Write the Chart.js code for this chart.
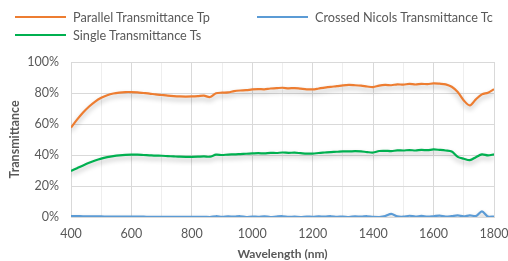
<!DOCTYPE html>
<html>
<head>
<meta charset="utf-8">
<script src="https://cdn.jsdelivr.net/npm/chart.js@4/dist/chart.umd.min.js"></script>
<style>
  body { margin: 0; background: #fff; font-family: Lato, sans-serif; }
  #wrap { position: relative; width: 508px; height: 261px; }
  #legend { position: absolute; left: 0; top: 0; width: 508px; height: 50px; }
  .item { position: absolute; height: 16px; font-size: 12.7px; color: #595959; white-space: nowrap; }
  .item span.sw { position: absolute; left: 0; top: 7px; width: 51px; height: 2px; }
  .item span.tx { position: absolute; left: 58px; top: 0; line-height: 16px; }
</style>
</head>
<body>
<div id="wrap">
  <canvas id="chart" width="508" height="261"></canvas>
  <div id="legend"></div>
</div>
<script>
// ============================= data

const wavelengths = [400, 420, 440, 460, 480, 500, 520, 540, 560, 580, 600, 620, 640, 660, 680, 700,
    720, 740, 760, 780, 800, 820, 840, 860, 880, 900, 920, 940, 960, 980, 1000, 1020, 1040, 1060, 1080,
    1100, 1120, 1140, 1160, 1180, 1200, 1220, 1240, 1260, 1280, 1300, 1320, 1340, 1360, 1380, 1400,
    1420, 1440, 1460, 1480, 1500, 1520, 1540, 1560, 1580, 1600, 1620, 1640, 1660, 1680, 1700, 1720,
    1740, 1760, 1780, 1800]

const parallelTp = [57.7, 62.8, 67.4, 71.3, 74.5, 76.9, 78.6, 79.7, 80.3, 80.6, 80.6, 80.4, 80.0, 79.6,
    79.1, 78.7, 78.3, 78.0, 77.8, 77.7, 77.8, 78.0, 78.3, 77.4, 79.8, 80.2, 80.4, 81.2, 81.6, 81.8, 82.3,
    82.5, 82.4, 82.9, 83.1, 83.4, 83.0, 83.2, 82.8, 82.4, 82.3, 82.9, 83.5, 84.0, 84.4, 84.9, 85.2, 85.0,
    84.7, 84.2, 83.8, 84.8, 85.2, 85.0, 85.6, 85.4, 85.9, 85.5, 85.9, 85.7, 86.2, 86.0, 85.6, 84.0, 80.6,
    75.2, 72.0, 75.9, 79.1, 80.2, 82.4]

const crossedTc = [0.6, 0.55, 0.5, 0.45, 0.4, 0.35, 0.3, 0.3, 0.25, 0.25, 0.2, 0.2, 0.2, 0.15, 0.15,
    0.15, 0.1, 0.1, 0.1, 0.1, 0.1, 0.1, 0.1, 0.0, 0.5, 0.1, 0.4, 0.2, 0.5, 0.0, 0.3, 0.1, 0.4, 0.0, 0.3,
    0.5, 0.1, 0.2, 0.0, 0.3, 0.1, 0.4, 0.2, 0.5, 0.1, 0.3, 0.0, 0.4, 0.2, 0.5, 0.1, 0.0, 0.6, 2.0, 0.4,
    0.2, 0.8, 0.3, 0.7, 0.2, 0.5, 0.9, 0.3, 0.6, 1.0, 0.4, 1.1, 0.6, 3.6, 0.2, 0.3]

const singleTs = [29.7, 31.5, 33.3, 35.0, 36.5, 37.7, 38.6, 39.3, 39.8, 40.1, 40.2, 40.2, 40.0, 39.8,
    39.6, 39.5, 39.3, 39.1, 38.9, 38.8, 38.8, 38.9, 39.1, 38.9, 40.2, 40.0, 40.3, 40.4, 40.6, 40.8, 41.0,
    41.2, 41.0, 41.4, 41.3, 41.6, 41.4, 41.5, 41.2, 40.9, 40.9, 41.3, 41.6, 41.9, 42.1, 42.4, 42.3, 42.5,
    42.3, 41.9, 41.6, 42.6, 42.7, 42.5, 43.0, 42.9, 43.2, 42.9, 43.3, 43.1, 43.6, 43.3, 42.9, 42.2, 38.8,
    37.6, 36.7, 38.6, 40.4, 39.8, 40.4]

const seriesNames = ['Parallel Transmittance Tp', 'Crossed Nicols Transmittance Tc', 'Single Transmittance Ts']
const colors = ['#ED7D31', '#5B9BD5', '#00B050']

const toPoints = (vals) => vals.map((v, i) => ({ x: wavelengths[i], y: v }))

// ============================= html legend (excel style, two columns)

const legendPos = [[15, 9], [257, 9], [15, 27]]
const legend = document.getElementById('legend')
seriesNames.forEach((name, i) => {
    const el = document.createElement('div')
    el.className = 'item'
    el.style.left = legendPos[i][0] + 'px'
    el.style.top = legendPos[i][1] + 'px'
    el.innerHTML = `<span class="sw" style="background:${colors[i]}"></span><span class="tx">${name}</span>`
    legend.appendChild(el)
})

// ============================= soft shadow under the lines

const lineShadow = {
    id: 'lineShadow',
    beforeDatasetDraw(chart) {
        const ctx = chart.ctx
        ctx.save()
        ctx.shadowColor = 'rgba(0,0,0,0.28)'
        ctx.shadowBlur = 5
        ctx.shadowOffsetY = 3
    },
    afterDatasetDraw(chart) { chart.ctx.restore() }
}

const gridColor = (c) => (c.tick && c.tick.value % (c.scale.axis === 'x' ? 200 : 20) === 0) ? '#d9d9d9' : '#eeeeee'

new Chart(document.getElementById('chart'), {
    type: 'line',
    data: {
        datasets: [parallelTp, crossedTc, singleTs].map((vals, i) => ({
            label: seriesNames[i],
            data: toPoints(vals),
            borderColor: colors[i],
            borderWidth: 2.2,
            pointRadius: 0,
            tension: 0.3,
            fill: false
        }))
    },
    plugins: [lineShadow],
    options: {
        responsive: false,
        animation: false,
        events: [],
        layout: { padding: { top: 62, right: 0 } },
        plugins: { legend: false, tooltip: { enabled: false } },
        scales: {
            x: {
                type: 'linear', min: 400, max: 1800,
                afterFit: (s) => { s.height = 44; s.paddingRight = 14 },
                ticks: {
                    stepSize: 100, padding: 9, color: '#595959',
                    font: { family: 'Lato', size: 12.5 },
                    maxRotation: 0, autoSkip: false,
                    callback: (v) => v % 200 === 0 ? v : ''
                },
                grid: { color: gridColor, drawTicks: false },
                border: { color: '#d9d9d9' },
                title: {
                    display: true, text: 'Wavelength (nm)', color: '#595959',
                    font: { family: 'Lato', size: 12, weight: 'bold' }, padding: { top: 4, bottom: 0 }
                }
            },
            y: {
                min: 0, max: 100,
                afterFit: (s) => { s.width = 71 },
                ticks: {
                    stepSize: 10, padding: 12, color: '#595959',
                    font: { family: 'Lato', size: 12.5 },
                    callback: (v) => v % 20 === 0 ? v + '%' : ''
                },
                grid: { color: gridColor, drawTicks: false },
                border: { color: '#d9d9d9' },
                title: {
                    display: true, text: 'Transmittance', color: '#595959',
                    font: { family: 'Lato', size: 12.5, weight: 'bold' }, padding: { top: 7, bottom: 0 }
                }
            }
        }
    }
})
</script>
</body>
</html>
